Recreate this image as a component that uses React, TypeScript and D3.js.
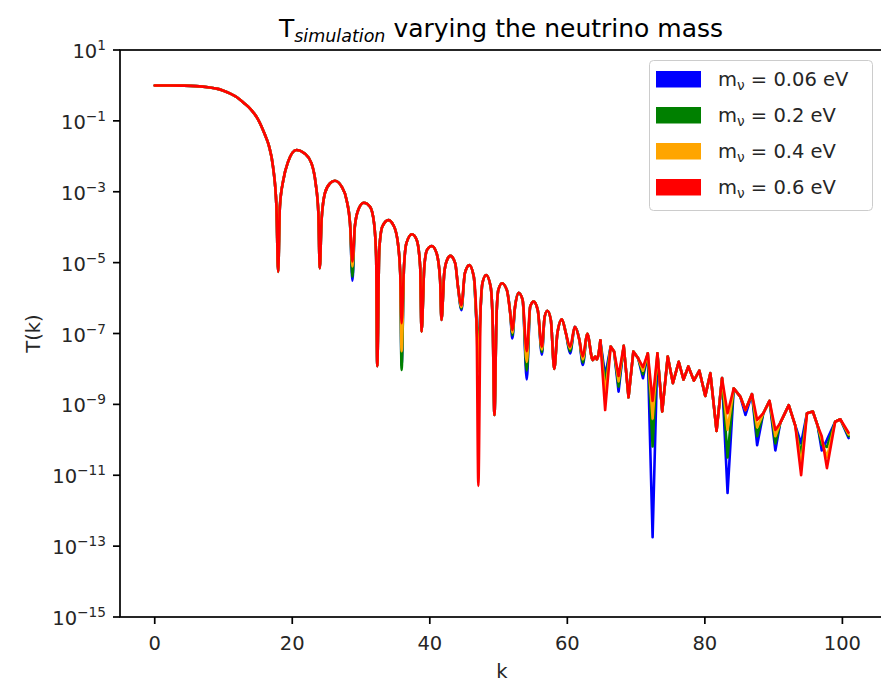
import { useEffect, useRef } from "react"
import * as d3 from "d3"

const W = 881
const H = 684
const box = { left: 120, right: 884, top: 50, bottom: 617 }

const kValues = [
  0, 2, 4, 6, 8, 9, 10, 11, 12, 13, 14, 15, 16, 16.6, 17.2, 17.7, 17.95, 18.2, 18.7, 19.4,
  20.6, 21.8, 22.8, 23.4, 23.8, 24.0, 24.26, 24.75, 25.5, 26.2, 27.2, 27.9, 28.4, 28.75, 29.1, 29.6,
  30.4, 31.3, 31.9, 32.2, 32.36, 32.65, 33.1, 33.97, 34.7, 35.3, 35.7, 35.9, 36.25, 36.6,
  37.4, 38.1, 38.6, 38.8, 39.2, 39.6, 40.3, 41.0, 41.5, 41.7, 42.1, 42.5, 43.0, 43.7,
  44.1, 44.6, 45.1, 45.75, 46.4, 46.8, 47.06, 47.4, 47.65, 48.2, 48.85, 49.15, 49.4, 49.7,
  49.97, 50.5, 51.2, 51.7, 52.0, 52.4, 52.9, 53.5, 54.1, 54.6, 55.1, 55.7, 56.3, 56.7,
  57.1, 57.6, 58.1, 58.55, 59.2, 59.8, 60.4, 61.1, 61.75, 62.25, 62.9, 63.7, 64.05, 64.3,
  64.8, 65.5, 66.3, 66.8, 67.45, 68.2, 68.9, 69.6, 70.3, 71.0, 71.7, 72.4, 73.1, 73.8,
  74.6, 75.35, 76.2, 76.9, 77.6, 78.4, 79.2, 80.06, 80.8, 81.7, 82.5, 83.3, 84.2, 85.15,
  85.9, 86.85, 87.6, 88.5, 89.4, 90.25, 90.95, 92.2, 93.15, 94.0, 94.85, 95.7, 96.4, 97.0,
  97.75, 98.95, 99.7, 100.9,
]

const logT060 = [
  0, 0, -0.005, -0.02, -0.06, -0.09, -0.15, -0.23, -0.34, -0.5, -0.68, -0.95, -1.38, -1.7, -2.29, -3.42, -5.26, -3.42, -2.67, -2.15,
  -1.82, -1.92, -2.2, -2.76, -3.61, -5.16, -3.8, -3.04, -2.76, -2.69, -2.86, -3.23, -3.89, -4.97, -3.98, -3.51,
  -3.31, -3.42, -3.89, -4.83, -7.92, -4.64, -3.98, -3.8, -3.94, -4.36, -5.3, -6.71, -5.11, -4.45,
  -4.2, -4.36, -5.11, -6.95, -5.11, -4.64, -4.53, -4.74, -5.49, -6.62, -5.3, -4.93, -4.81, -5.02,
  -5.68, -6.2, -5.3, -5.07, -5.4, -6.71, -11.3, -6.24, -5.58, -5.35, -5.68, -6.71, -9.3, -6.53,
  -5.77, -5.58, -5.77, -6.43, -6.9, -6.24, -5.85, -6.05, -7.5, -6.24, -6.1, -6.34, -7.37, -6.53,
  -6.36, -6.62, -8.0, -7.0, -6.6, -7.0, -7.37, -6.81, -7.18, -7.65, -7.01, -7.75, -7.65, -7.73,
  -7.2, -9.16, -7.37, -7.51, -8.2, -7.35, -8.8, -7.51, -7.7, -7.95, -7.56, -8.9, -7.56, -9.2,
  -7.65, -8.4, -7.8, -8.3, -7.93, -8.33, -8.05, -8.76, -8.12, -9.75, -8.26, -9.25, -8.55, -8.78,
  -9.16, -8.71, -9.44, -9.25, -8.9, -9.72, -9.53, -9.02, -9.6, -11.0, -9.25, -9.2, -9.6, -9.9,
  -10.8, -9.49, -9.42, -9.8,
]

// points where the lighter runs differ from the 0.6 eV curve: [k, log10 T]
const diff040: [number, number][] = [
  [28.75, -5.11], [35.9, -7.5], [44.6, -6.25], [47.06, -8.07], [52.0, -6.98], [54.1, -7.8],
  [56.3, -7.45], [60.4, -7.43], [62.25, -7.73], [65.5, -8.7], [67.45, -8.35], [71.0, -8.05],
  [72.4, -9.4], [83.3, -9.72], [87.6, -9.65], [90.25, -9.9], [94.0, -10.7], [97.0, -10.0],
  [97.75, -10.5], [100.9, -9.85],
]
const diff020: [number, number][] = [
  [28.75, -5.4], [35.9, -8.03], [44.6, -6.3], [47.06, -7.5], [52.0, -7.05], [54.1, -8.05],
  [56.3, -7.52], [60.4, -7.5], [62.25, -7.82], [65.5, -8.4], [67.45, -8.5], [71.0, -8.15],
  [72.4, -10.19], [83.3, -10.5], [87.6, -9.9], [90.25, -10.1], [94.0, -10.4], [97.0, -10.15],
  [97.75, -10.2], [100.9, -9.9],
]
const diff006: [number, number][] = [
  [28.75, -5.51], [35.9, -7.9], [44.6, -6.34], [47.06, -7.3], [52.0, -7.14], [54.1, -8.3],
  [56.3, -7.6], [60.4, -7.56], [62.25, -7.89], [65.5, -8.2], [67.45, -8.64], [71.0, -8.26],
  [72.4, -12.75], [83.3, -11.5], [85.9, -9.3], [87.6, -10.15], [90.25, -10.3], [94.0, -10.1],
  [97.0, -10.3], [97.75, -10.0], [100.9, -9.95],
]

const seriesLabels = ["0.06", "0.2", "0.4", "0.6"]
const seriesColors = ["#0000ff", "#008000", "#ffa500", "#ff0000"]
const seriesDiffs = [diff006, diff020, diff040, []]

// above this k the sampling in the picture is coarse and the curve is drawn as straight segments
const kSmoothEnd = 64.8

const xTicks = [0, 20, 40, 60, 80, 100]
const yExponents = [1, -1, -3, -5, -7, -9, -11, -13, -15]

const FONT = "DejaVu Sans"

export default function App() {
  const svgRef = useRef<SVGSVGElement>(null)

  useEffect(() => {
    if (!svgRef.current) return
    const svg = d3.select(svgRef.current)
    svg.selectAll("*").remove()

    const x = d3.scaleLinear().domain([-5.05, 106.05]).range([box.left, box.right])
    const y = d3.scaleLog().domain([1e-15, 10]).range([box.bottom, box.top])

    svg.append("rect").attr("width", W).attr("height", H).attr("fill", "#ffffff")

    svg
      .append("clipPath")
      .attr("id", "plot-clip")
      .append("rect")
      .attr("x", box.left)
      .attr("y", box.top)
      .attr("width", box.right - box.left)
      .attr("height", box.bottom - box.top)

    const series = seriesDiffs.map((diffs) =>
      kValues.map((k, i) => {
        const hit = diffs.find((d) => d[0] === k)
        return { k, v: hit ? hit[1] : logT060[i] }
      })
    )

    const smooth = d3
      .line<{ k: number; v: number }>()
      .x((d) => x(d.k))
      .y((d) => y(Math.pow(10, d.v)))
      .curve(d3.curveMonotoneX)
    const straight = d3
      .line<{ k: number; v: number }>()
      .x((d) => x(d.k))
      .y((d) => y(Math.pow(10, d.v)))

    const plot = svg.append("g").attr("clip-path", "url(#plot-clip)")
    series.forEach((s, i) => {
      const parts = [
        smooth(s.filter((d) => d.k <= kSmoothEnd)),
        straight(s.filter((d) => d.k >= kSmoothEnd)),
      ]
      parts.forEach((d) => {
        plot
          .append("path")
          .attr("d", d)
          .attr("fill", "none")
          .attr("stroke", seriesColors[i])
          .attr("stroke-width", 2.6)
          .attr("stroke-linejoin", "round")
          .attr("stroke-linecap", "round")
      })
    })

    // spines
    svg.append("rect")
      .attr("x", box.left)
      .attr("y", box.top)
      .attr("width", box.right - box.left)
      .attr("height", box.bottom - box.top)
      .attr("fill", "none").attr("stroke", "#000").attr("stroke-width", 1.7)

    // x ticks
    const xt = svg.append("g")
    xTicks.forEach((t) => {
      xt.append("line")
        .attr("x1", x(t)).attr("x2", x(t))
        .attr("y1", box.bottom).attr("y2", box.bottom + 7)
        .attr("stroke", "#000").attr("stroke-width", 1.7)
      xt.append("text")
        .attr("x", x(t)).attr("y", box.bottom + 33)
        .attr("text-anchor", "middle")
        .attr("font-family", FONT).attr("font-size", 19.5).attr("fill", "#262626")
        .text(t)
    })

    // y ticks
    const yt = svg.append("g")
    yExponents.forEach((e) => {
      const py = y(Math.pow(10, e))
      yt.append("line")
        .attr("x1", box.left - 7).attr("x2", box.left)
        .attr("y1", py).attr("y2", py)
        .attr("stroke", "#000").attr("stroke-width", 1.7)
      const txt = yt.append("text")
        .attr("x", box.left - 14).attr("y", py + 8)
        .attr("text-anchor", "end")
        .attr("font-family", FONT).attr("font-size", 19.5).attr("fill", "#262626")
      txt.append("tspan").text("10")
      txt.append("tspan").attr("dy", -8).attr("font-size", 13.7).text(e < 0 ? `\u2212${-e}` : `${e}`)
    })

    // axis labels
    svg.append("text")
      .attr("x", (box.left + box.right) / 2).attr("y", 678)
      .attr("text-anchor", "middle")
      .attr("font-family", FONT).attr("font-size", 19.5).attr("fill", "#262626")
      .text("k")
    svg.append("text")
      .attr("transform", `translate(40,${(box.top + box.bottom) / 2}) rotate(-90)`)
      .attr("text-anchor", "middle")
      .attr("font-family", FONT).attr("font-size", 19.5).attr("fill", "#262626")
      .text("T(k)")

    // title
    const title = svg.append("text")
      .attr("x", 501).attr("y", 37)
      .attr("text-anchor", "middle")
      .attr("font-family", FONT).attr("font-size", 25).attr("fill", "#000")
    title.append("tspan").text("T")
    title.append("tspan").attr("dy", 5).attr("font-size", 17.5).attr("font-style", "italic").text("simulation")
    title.append("tspan").attr("dy", -5).text(" varying the neutrino mass")

    // legend
    const lg = svg.append("g")
    lg.append("rect")
      .attr("x", 649.5).attr("y", 60.5).attr("width", 223).attr("height", 150).attr("rx", 4)
      .attr("fill", "#ffffff").attr("fill-opacity", 0.8)
      .attr("stroke", "#cccccc").attr("stroke-width", 1)
    seriesLabels.forEach((lab, i) => {
      const ry = 71 + i * 36
      lg.append("rect")
        .attr("x", 656).attr("y", ry).attr("width", 45).attr("height", 16.5)
        .attr("fill", seriesColors[i])
      const t = lg.append("text")
        .attr("x", 718).attr("y", ry + 15)
        .attr("font-family", FONT).attr("font-size", 19.5).attr("fill", "#262626")
      t.append("tspan").text("m")
      t.append("tspan").attr("dy", 4).attr("font-size", 13.7).text("\u03bd")
      t.append("tspan").attr("dy", -4).text(` = ${lab} eV`)
    })
  }, [])

  return (
    <svg
      ref={svgRef}
      width={W}
      height={H}
      style={{ position: "absolute", left: 0, top: 0, display: "block" }}
    />
  )
}
